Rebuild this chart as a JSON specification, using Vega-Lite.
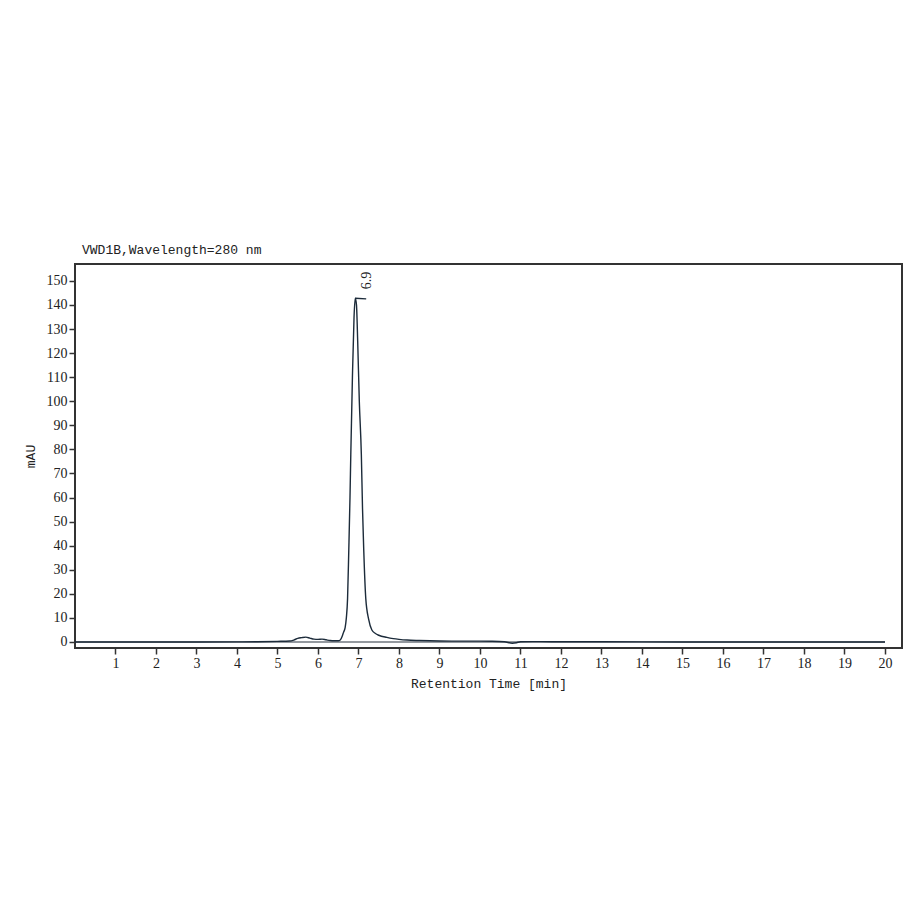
{
  "$schema": "https://vega.github.io/schema/vega-lite/v6.json",
  "width": 827,
  "height": 384,
  "autosize": {"type": "none"},
  "padding": {"left": 75, "top": 264, "right": 17, "bottom": 271},
  "background": "white",
  "title": {
    "text": "VWD1B,Wavelength=280 nm",
    "anchor": "start",
    "frame": "group",
    "font": "Liberation Mono",
    "fontSize": 13,
    "fontWeight": "normal",
    "color": "#222",
    "baseline": "alphabetic",
    "offset": -3,
    "dx": 7
  },
  "config": {
    "view": {"stroke": "#333", "strokeWidth": 2},
    "axis": {
      "grid": false,
      "domain": false,
      "tickColor": "#333",
      "tickWidth": 1.5,
      "tickSize": 6,
      "labelFont": "Liberation Serif",
      "labelFontSize": 14,
      "labelColor": "#222",
      "titleFont": "Liberation Mono",
      "titleFontSize": 13,
      "titleFontWeight": "normal",
      "titleColor": "#222"
    }
  },
  "datasets": {
    "signal": [
      {"t": 0, "v": 0}, {"t": 1, "v": 0}, {"t": 2, "v": 0}, {"t": 3, "v": 0},
      {"t": 4, "v": 0.05}, {"t": 4.5, "v": 0.1}, {"t": 5.0, "v": 0.25}, {"t": 5.3, "v": 0.4},
      {"t": 5.4, "v": 0.8}, {"t": 5.5, "v": 1.5}, {"t": 5.6, "v": 1.8}, {"t": 5.7, "v": 2.0},
      {"t": 5.8, "v": 1.6}, {"t": 5.9, "v": 1.2}, {"t": 6.0, "v": 1.1}, {"t": 6.1, "v": 1.2},
      {"t": 6.2, "v": 0.9}, {"t": 6.3, "v": 0.6}, {"t": 6.4, "v": 0.5}, {"t": 6.5, "v": 0.5},
      {"t": 6.55, "v": 0.8}, {"t": 6.6, "v": 2.5}, {"t": 6.63, "v": 4}, {"t": 6.67, "v": 6},
      {"t": 6.7, "v": 10}, {"t": 6.73, "v": 18}, {"t": 6.76, "v": 38}, {"t": 6.79, "v": 60},
      {"t": 6.81, "v": 78}, {"t": 6.85, "v": 110}, {"t": 6.89, "v": 135}, {"t": 6.92, "v": 142.8},
      {"t": 6.95, "v": 140}, {"t": 6.98, "v": 125}, {"t": 7.02, "v": 100}, {"t": 7.07, "v": 78},
      {"t": 7.1, "v": 55}, {"t": 7.13, "v": 38}, {"t": 7.18, "v": 18}, {"t": 7.25, "v": 9.5},
      {"t": 7.33, "v": 5}, {"t": 7.42, "v": 3.5}, {"t": 7.5, "v": 2.8}, {"t": 7.7, "v": 1.9},
      {"t": 7.86, "v": 1.4}, {"t": 8.0, "v": 1.1}, {"t": 8.2, "v": 0.8}, {"t": 8.5, "v": 0.6},
      {"t": 9.0, "v": 0.4}, {"t": 9.5, "v": 0.35}, {"t": 10.0, "v": 0.35}, {"t": 10.3, "v": 0.3},
      {"t": 10.6, "v": 0.1}, {"t": 10.8, "v": -0.5}, {"t": 10.9, "v": -0.3}, {"t": 11.0, "v": 0.1},
      {"t": 11.5, "v": 0.15}, {"t": 12, "v": 0.1}, {"t": 14, "v": 0.05}, {"t": 16, "v": 0},
      {"t": 18, "v": 0}, {"t": 20, "v": 0}
    ],
    "baseline": [{"t": 0, "v": 0}, {"t": 20, "v": 0}],
    "apex": [{"t": 6.92, "v": 142.8}, {"t": 7.19, "v": 142.5}],
    "label": [{"t": 6.92, "v": 142.8, "text": "6.9"}]
  },
  "encoding": {
    "x": {
      "field": "t", "type": "quantitative",
      "scale": {"domain": [0, 20.42], "nice": false, "zero": false},
      "axis": {"values": [1,2,3,4,5,6,7,8,9,10,11,12,13,14,15,16,17,18,19,20], "title": "Retention Time [min]", "labelPadding": 2, "titlePadding": 7}
    },
    "y": {
      "field": "v", "type": "quantitative",
      "scale": {"domain": [-2.5, 157], "nice": false, "zero": false},
      "axis": {"values": [0,10,20,30,40,50,60,70,80,90,100,110,120,130,140,150], "title": "mAU", "labelPadding": 2, "titlePadding": 9}
    }
  },
  "layer": [
    {
      "data": {"name": "baseline"},
      "mark": {"type": "line", "color": "#2a3540", "strokeWidth": 1.2},
      "encoding": {}
    },
    {
      "data": {"name": "signal"},
      "mark": {"type": "line", "color": "#1c2b3a", "strokeWidth": 1.4, "interpolate": "monotone"},
      "encoding": {}
    },
    {
      "data": {"name": "apex"},
      "mark": {"type": "line", "color": "#1c2b3a", "strokeWidth": 1.4},
      "encoding": {}
    },
    {
      "data": {"name": "label"},
      "mark": {"type": "text", "angle": 270, "align": "left", "baseline": "middle", "dx": 9, "dy": 12, "font": "Liberation Serif", "fontSize": 14, "color": "#222"},
      "encoding": {"text": {"field": "text"}}
    }
  ]
}
